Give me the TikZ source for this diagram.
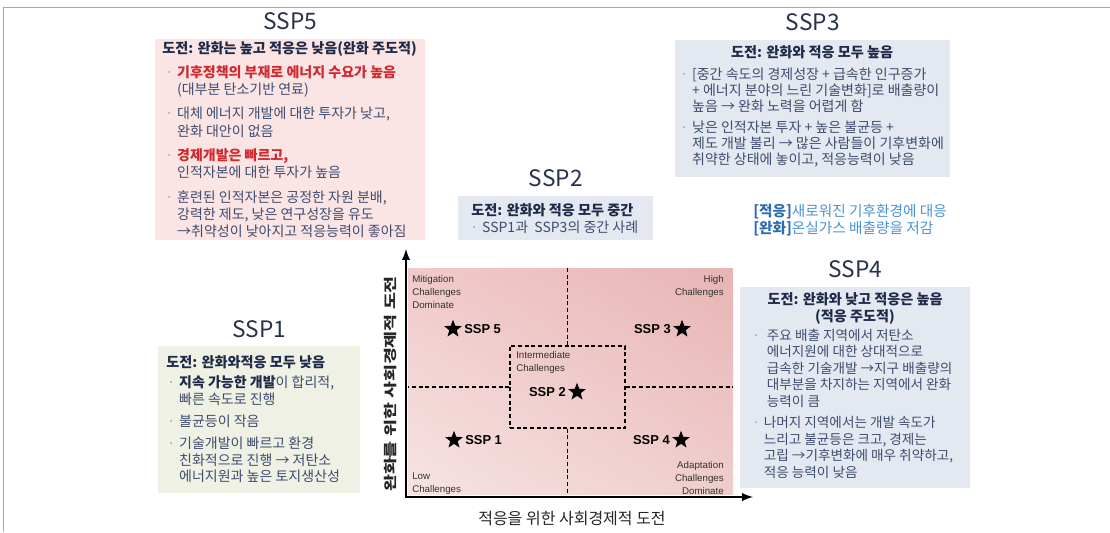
\documentclass[tikz,border=0pt]{standalone}
\usepackage{fontspec}
\setmainfont{Noto Sans CJK KR}
\newfontfamily\arialfont{Liberation Sans}
\usetikzlibrary{positioning,shapes.geometric,shadings}

\definecolor{pinkbox}{HTML}{FBE4E4}
\definecolor{bluebox}{HTML}{E4E9F1}
\definecolor{greenbox}{HTML}{EEF1E3}
\definecolor{titlec}{HTML}{27314E}
\definecolor{headc}{HTML}{1F2A49}
\definecolor{bodyc}{HTML}{3E4C6D}
\definecolor{hotred}{HTML}{D0282C}
\definecolor{dotc}{HTML}{9AA3B5}
\definecolor{legdark}{HTML}{2B6CB3}
\definecolor{leglight}{HTML}{4A92D2}
\definecolor{framec}{HTML}{A8A8A8}
\definecolor{plotul}{HTML}{F0CACA}
\definecolor{plotur}{HTML}{E8B4B4}
\definecolor{plotll}{HTML}{F7E3E3}
\definecolor{plotlr}{HTML}{EFCDCD}

\newcommand{\tp}{\rule{0pt}{9.5pt}}
\newcommand{\bul}{{\color{dotc}·}\hspace{3pt}}
\newcommand{\ind}{\phantom{·}\hspace{3pt}}
\newcommand{\hot}[1]{{\color{hotred}\bfseries #1}}

\begin{document}
\begin{tikzpicture}[x=0.75pt,y=-0.75pt,
    panel/.style={anchor=north west, inner sep=0pt},
    ssptitle/.style={font=\fontsize{17}{19}\selectfont, text=titlec},
    head/.style={font=\fontsize{10.6}{12.6}\selectfont\bfseries, text=headc, inner sep=0pt},
    body/.style={font=\fontsize{10.5}{12.6}\selectfont, text=bodyc, inner sep=0pt, align=left},
    corner/.style={font=\arialfont\fontsize{7.3}{9.75}\selectfont, text=black!80, inner sep=0pt},
    sspstar/.style={star, star points=5, star point ratio=2.4, fill=black, inner sep=0pt, minimum size=14pt},
    ssplabel/.style={font=\arialfont\bfseries\fontsize{9.7}{11}\selectfont, inner sep=0pt},
    gridline/.style={dashed, dash pattern=on 3pt off 2pt, line width=0.8pt},
    axisline/.style={latex-latex, line width=1.8pt}]

\useasboundingbox (0,0) rectangle (1110,532);
\draw[framec, line width=0.7pt] (1110,7) -- (3,7) -- (3,532);

% SSP5
\node[panel, fill=pinkbox, minimum width=202.5pt, minimum height=150.75pt] (ssp5box) at (155,39) {};
\node[ssptitle, above=3pt of ssp5box] (ssp5title) {SSP5};
\node[head, anchor=base west] (ssp5head) at (162,53) {도전: 완화는 높고 적응은 낮음(완화 주도적)};
\node[body, anchor=north west, font=\fontsize{10.5}{12.9}\selectfont] (ssp5body) at (165,64.3) {%
  \tp\bul\hot{기후정책의 부재로 에너지 수요가 높음}\\
  \ind(대부분 탄소기반 연료)\\[5.5pt]
  \bul 대체 에너지 개발에 대한 투자가 낮고,\\
  \ind 완화 대안이 없음\\[5.5pt]
  \bul\hot{경제개발은 빠르고,}\\
  \ind 인적자본에 대한 투자가 높음\\[5.5pt]
  \bul 훈련된 인적자본은 공정한 자원 분배,\\
  \ind 강력한 제도, 낮은 연구성장을 유도\\
  \ind→취약성이 낮아지고 적응능력이 좋아짐};

% SSP3
\node[panel, fill=bluebox, minimum width=206.25pt, minimum height=102.75pt] (ssp3box) at (675,40) {};
\node[ssptitle, above=3pt of ssp3box] (ssp3title) {SSP3};
\node[head, anchor=base] (ssp3head) at (812,57) {도전: 완화와 적응 모두 높음};
\node[body, anchor=north west, font=\fontsize{10.5}{12.1}\selectfont] (ssp3body) at (680,66.3) {%
  \tp\bul[중간 속도의 경제성장 + 급속한 인구증가\\
  \ind+ 에너지 분야의 느린 기술변화]로 배출량이\\
  \ind 높음 → 완화 노력을 어렵게 함\\[3.75pt]
  \bul 낮은 인적자본 투자 + 높은 불균등 +\\
  \ind 제도 개발 불리 → 많은 사람들이 기후변화에\\
  \ind 취약한 상태에 놓이고, 적응능력이 낮음};

% SSP2
\node[panel, fill=bluebox, minimum width=146.25pt, minimum height=33pt] (ssp2box) at (458,196) {};
\node[ssptitle, above=3pt of ssp2box] (ssp2title) {SSP2};
\node[head, anchor=base west] (ssp2head) at (471,215) {도전: 완화와 적응 모두 중간};
\node[body, anchor=base west] (ssp2body) at (470,232) {\bul SSP1과\ \ SSP3의 중간 사례};

% legend
\node[body, anchor=north west, font=\fontsize{11}{12.75}\selectfont] (legend) at (753,203.3) {%
  \tp{\color{legdark}\bfseries[적응]}{\color{leglight} 새로워진 기후환경에 대응}\\
  {\color{legdark}\bfseries[완화]}{\color{leglight} 온실가스 배출량을 저감}};

% SSP4
\node[panel, fill=bluebox, minimum width=172.5pt, minimum height=150.75pt] (ssp4box) at (740,287) {};
\node[ssptitle, above=3pt of ssp4box] (ssp4title) {SSP4};
\node[head, anchor=north, align=center] (ssp4head) at (855,291.3) {\tp 도전: 완화와 낮고 적응은 높음\\(적응 주도적)};
\node[body, anchor=north west, font=\fontsize{10.2}{12.4}\selectfont] (ssp4body) at (752,327.3) {%
  \tp\bul\ 주요 배출 지역에서 저탄소\\
  \ind\ 에너지원에 대한 상대적으로\\
  \ind\ 급속한 기술개발 →지구 배출량의\\
  \ind\ 대부분을 차지하는 지역에서 완화\\
  \ind\ 능력이 큼\\[3.75pt]
  \bul 나머지 지역에서는 개발 속도가\\
  \ind 느리고 불균등은 크고, 경제는\\
  \ind 고립 →기후변화에 매우 취약하고,\\
  \ind 적응 능력이 낮음};

% SSP1
\node[panel, fill=greenbox, minimum width=151.5pt, minimum height=110.25pt] (ssp1box) at (158,346) {};
\node[ssptitle, above=3pt of ssp1box] (ssp1title) {SSP1};
\node[head, anchor=base west] (ssp1head) at (166,367) {도전: 완화와적응 모두 낮음};
\node[body, anchor=north west] (ssp1body) at (167,374.3) {%
  \tp\bul{\color{headc}\bfseries 지속 가능한 개발}이 합리적,\\
  \ind 빠른 속도로 진행\\[4pt]
  \bul 불균등이 작음\\[4pt]
  \bul 기술개발이 빠르고 환경\\
  \ind 친화적으로 진행 → 저탄소\\
  \ind 에너지원과 높은 토지생산성};

% chart
\node[inner sep=0pt, shade, upper left=plotul, upper right=plotur, lower left=plotll, lower right=plotlr,
  minimum width=243.75pt, minimum height=169.5pt] (plot) at (570.5,381) {};
\node[draw, gridline, inner sep=0pt, minimum width=86.25pt, minimum height=61.5pt] (midbox) at (567.5,387) {};
\draw[gridline] (midbox.north) -- (midbox.north |- plot.north);
\draw[gridline] (midbox.south) -- (midbox.south |- plot.south);
\draw[gridline] (midbox.west) -- (midbox.west -| plot.west);
\draw[gridline] (midbox.east) -- (midbox.east -| plot.east);

\node[corner, anchor=north west, align=left] (mitig) at (412,275) {Mitigation\\Challenges\\Dominate};
\node[corner, anchor=north east, align=right] (highc) at (724,275) {High\\Challenges};
\node[corner, anchor=south west, align=left] (lowc) at (412,495) {Low\\Challenges};
\node[corner, anchor=south east, align=right] (adapt) at (724,495) {Adaptation\\Challenges\\Dominate};
\node[corner, anchor=north west, align=left] (interm) at (516,351) {Intermediate\\Challenges};

\node[sspstar] (s5) at (453,329) {};
\node[ssplabel, right=4pt of s5] (s5lab) {SSP 5};
\node[sspstar] (s3) at (682,329) {};
\node[ssplabel, left=4pt of s3] (s3lab) {SSP 3};
\node[sspstar] (s2) at (577,392) {};
\node[ssplabel, left=4pt of s2] (s2lab) {SSP 2};
\node[sspstar] (s1) at (454,440) {};
\node[ssplabel, right=4pt of s1] (s1lab) {SSP 1};
\node[sspstar] (s4) at (681,440) {};
\node[ssplabel, left=4pt of s4] (s4lab) {SSP 4};

\coordinate (corner) at (406,497);
\coordinate (ytip) at (406,249);
\coordinate (xtip) at (753,497);
\draw[axisline] (ytip) -- (corner) -- (xtip);

\node[font=\fontsize{12}{14}\selectfont, text=black!85] (xlab) at (572,519) {적응을 위한 사회경제적 도전};
\node[rotate=90, font=\fontsize{10}{12}\selectfont\bfseries, text=black!85] (ylab) at (390,384) {\scalebox{1.38}[1]{완화를 위한 사회경제적 도전}};
\end{tikzpicture}
\end{document}
